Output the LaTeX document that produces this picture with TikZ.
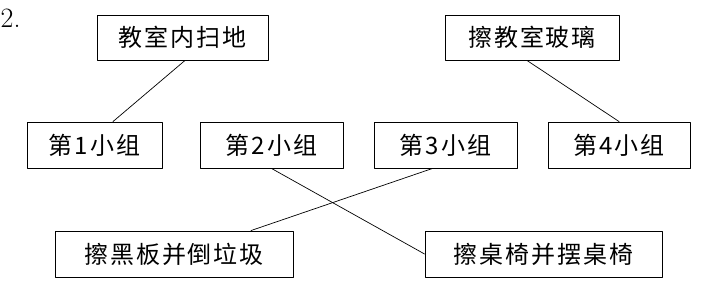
\documentclass[tikz,border=0pt]{standalone}
\usepackage{fontspec}
\newfontfamily\cjk[LetterSpace=8]{Noto Sans CJK SC}
\usepackage{tikz}
\usetikzlibrary{positioning}

\begin{document}
\begin{tikzpicture}[
    x=1pt,
    y=-1pt,
    line cap=round,
    line join=round,
    compito/.style={draw,line width=0.9pt,minimum height=45pt,inner sep=0pt,
        font=\cjk\fontsize{24}{30}\selectfont},
    gruppo/.style={compito,minimum height=46pt},
    filo/.style={line width=0.7pt}
]

\useasboundingbox (0,0) rectangle (708,292);

% Numero
\node[anchor=base west,inner sep=0pt,font=\fontsize{28}{34}\selectfont] (num) at (0.5,27) {2.};

% Compiti in alto
\node[compito,minimum width=171pt] (t1) at (182.5,37.5) {教室内扫地};
\node[compito,minimum width=174pt] (t2) at (532,37.5) {擦教室玻璃};

% Gruppi
\node[gruppo,minimum width=135pt] (g1) at (94.5,145) {第1小组};
\node[gruppo,minimum width=143pt] (g2) at (271.5,145) {第2小组};
\node[gruppo,minimum width=143pt] (g3) at (445.5,145) {第3小组};
\node[gruppo,minimum width=142pt] (g4) at (619,145) {第4小组};

% Compiti in basso
\node[gruppo,minimum width=238pt] (b1) at (174,254) {擦黑板并倒垃圾};
\node[gruppo,minimum width=237pt] (b2) at (543.5,254) {擦桌椅并摆桌椅};

% Collegamenti
\draw[filo] ([xshift=2.5]t1.south) -- ([xshift=18.5]g1.north);
\draw[filo] ([xshift=-5]t2.south) -- (g4.north);
\draw[filo] (g2.south) -- (b2.west);
\draw[filo] ([xshift=-13]g3.south) -- ([xshift=77]b1.north);

\end{tikzpicture}
\end{document}
